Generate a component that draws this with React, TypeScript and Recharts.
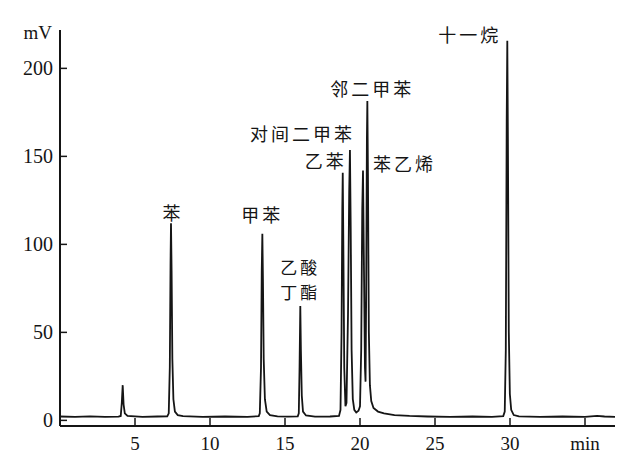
import React from 'react'
import { LineChart, Line, XAxis, YAxis, ReferenceDot } from 'recharts'

// chromatogram trace: [retention time (min), signal (mV)]
const trace: [number, number][] = [
    [0, 2.2], [1, 2.0], [2, 2.3], [3, 2.0], [3.9, 2.1],
    // unlabelled solvent peak
    [4.05, 2.5], [4.12, 10], [4.18, 20], [4.24, 9], [4.32, 4], [4.5, 2.5],
    [5.5, 2.0], [6.5, 2.2], [7.15, 2.3],
    // 苯
    [7.25, 4], [7.32, 30], [7.37, 90], [7.4, 112], [7.44, 85], [7.49, 35], [7.56, 12], [7.66, 5], [7.85, 3], [8.2, 2.4],
    [9.5, 2.0], [11, 2.2], [12.5, 2.0], [13.25, 2.4],
    // 甲苯
    [13.32, 4], [13.4, 30], [13.45, 85], [13.49, 106], [13.53, 80], [13.58, 35], [13.66, 12], [13.78, 5], [14.0, 3], [14.5, 2.3],
    [15.2, 2.1], [15.85, 2.3],
    // 乙酸丁酯
    [15.92, 4], [15.97, 30], [16.02, 65], [16.06, 40], [16.12, 14], [16.2, 5], [16.4, 2.8],
    [17, 2.1], [18, 2.2], [18.6, 2.5],
    // 乙苯 + 对间二甲苯
    [18.7, 6], [18.77, 50], [18.82, 120], [18.85, 140.7], [18.89, 100], [18.95, 30], [19.03, 8],
    [19.1, 10], [19.2, 60], [19.28, 130], [19.33, 153.6], [19.38, 110], [19.44, 40], [19.52, 12], [19.62, 6], [19.75, 4.5], [19.9, 5.5],
    // 苯乙烯 + 邻二甲苯
    [20.0, 8], [20.08, 40], [20.15, 120], [20.2, 141.9], [20.26, 90], [20.33, 30], [20.37, 22],
    [20.41, 70], [20.46, 160], [20.49, 181.5], [20.53, 140], [20.59, 50], [20.66, 20], [20.75, 11], [20.9, 7],
    [21.2, 5], [21.6, 4], [22.3, 3], [23.3, 2.5], [24.5, 2.2],
    [26, 2.0], [27.5, 2.2], [28.8, 2.0], [29.55, 2.4],
    // 十一烷
    [29.65, 5], [29.72, 40], [29.78, 170], [29.82, 215.7], [29.86, 160], [29.92, 50], [29.99, 15], [30.08, 6], [30.25, 3], [30.6, 2.3],
    [32, 2.0], [33.5, 2.2], [35, 2.0], [35.8, 2.6], [36.3, 2.2], [37, 2.0],
]

const peakLabels = ['苯', '甲苯', '乙酸\n丁酯', '乙苯', '对间二甲苯', '苯乙烯', '邻二甲苯', '十一烷']
const peakTimes = [7.4, 13.49, 16.02, 18.85, 19.33, 20.2, 20.49, 29.82]
const peakHeights = [112, 106, 65, 140.7, 153.6, 141.9, 181.5, 215.7]

const xTicks = [5, 10, 15, 20, 25, 30, 35]
const yTicks = [0, 50, 100, 150, 200]

// where each name sits relative to the top of its peak (px)
const labelPlacement: Record<string, { dx: number; dy: number; anchor: 'start' | 'middle' | 'end'; size?: number }> = {
    '苯': { dx: 2, dy: -3, anchor: 'middle' },
    '甲苯': { dx: 0, dy: -12, anchor: 'middle' },
    '乙酸\n丁酯': { dx: 0, dy: -32, anchor: 'middle', size: 17 },
    '乙苯': { dx: 4, dy: -5, anchor: 'end' },
    '对间二甲苯': { dx: 5, dy: -9, anchor: 'end' },
    '苯乙烯': { dx: 10, dy: 0, anchor: 'start' },
    '邻二甲苯': { dx: 5, dy: -5, anchor: 'middle' },
    '十一烷': { dx: -6, dy: 1, anchor: 'end' },
}

const data = trace.map(([t, mv]) => ({ t, mv }))

const serif = '"Liberation Serif", "DejaVu Serif", serif'
const cjk = '"Noto Sans CJK SC", sans-serif'
const ink = '#151515'

function YTick({ x, y, payload }: any) {
    return (
        <g>
            <line x1={x} x2={x + 7} y1={y} y2={y} stroke={ink} strokeWidth={1.5} />
            <text x={x - 7} y={y + 7} textAnchor="end" fontSize={20} fontFamily={serif} fill={ink}>
                {payload.value}
            </text>
        </g>
    )
}

function XTick({ x, y, payload }: any) {
    return (
        <g>
            <line x1={x} x2={x} y1={y} y2={y - 8} stroke={ink} strokeWidth={1.5} />
            <text x={x} y={y + 24} textAnchor="middle" fontSize={19} fontFamily={serif} fill={ink}>
                {payload.value === 35 ? 'min' : payload.value}
            </text>
        </g>
    )
}

function peakLabel(name: string) {
    return (props: any) => {
        const vb = props.viewBox || {}
        const cx = vb.x + (vb.width || 0) / 2
        const cy = vb.y + (vb.height || 0) / 2
        const p = labelPlacement[name]
        const lines = name.split('\n')
        return (
            <text
                x={cx + p.dx}
                y={cy + p.dy}
                textAnchor={p.anchor}
                fontSize={p.size ?? 18}
                letterSpacing={3}
                fontFamily={cjk}
                fill={ink}
            >
                {lines.map((line, i) => (
                    <tspan key={i} x={cx + p.dx} dy={i === 0 ? 0 : 25}>
                        {line}
                    </tspan>
                ))}
            </text>
        )
    }
}

function MvLabel(props: any) {
    const vb = props.viewBox || { x: 0, y: 30, width: 60 }
    return (
        <text x={vb.x + vb.width - 8} y={vb.y + 9} textAnchor="end" fontSize={19} fontFamily={serif} fill={ink}>
            mV
        </text>
    )
}

export default function App() {
    return (
        <div style={{ position: 'absolute', left: 0, top: 0, width: 637, height: 461, background: '#fff' }}>
            <LineChart width={637} height={461} data={data} margin={{ top: 30, right: 22, bottom: 0, left: 0 }}>
                <XAxis
                    dataKey="t"
                    type="number"
                    domain={[0, 37]}
                    ticks={xTicks}
                    allowDataOverflow
                    height={35}
                    tickSize={0}
                    tickMargin={0}
                    tickLine={false}
                    axisLine={{ stroke: ink, strokeWidth: 2 }}
                    tick={<XTick />}
                />
                <YAxis
                    type="number"
                    domain={[-3.2, 221.8]}
                    ticks={yTicks}
                    allowDataOverflow
                    width={60}
                    tickSize={0}
                    tickMargin={0}
                    tickLine={false}
                    axisLine={{ stroke: ink, strokeWidth: 2 }}
                    tick={<YTick />}
                    label={{ content: MvLabel }}
                />
                <Line
                    type="linear"
                    dataKey="mv"
                    stroke={ink}
                    strokeWidth={1.8}
                    dot={false}
                    isAnimationActive={false}
                />
                {peakLabels.map((name, i) => (
                    <ReferenceDot
                        key={name}
                        x={peakTimes[i]}
                        y={peakHeights[i]}
                        r={2}
                        fill="none"
                        stroke="none"
                        label={{ content: peakLabel(name) }}
                    />
                ))}
            </LineChart>
        </div>
    )
}
